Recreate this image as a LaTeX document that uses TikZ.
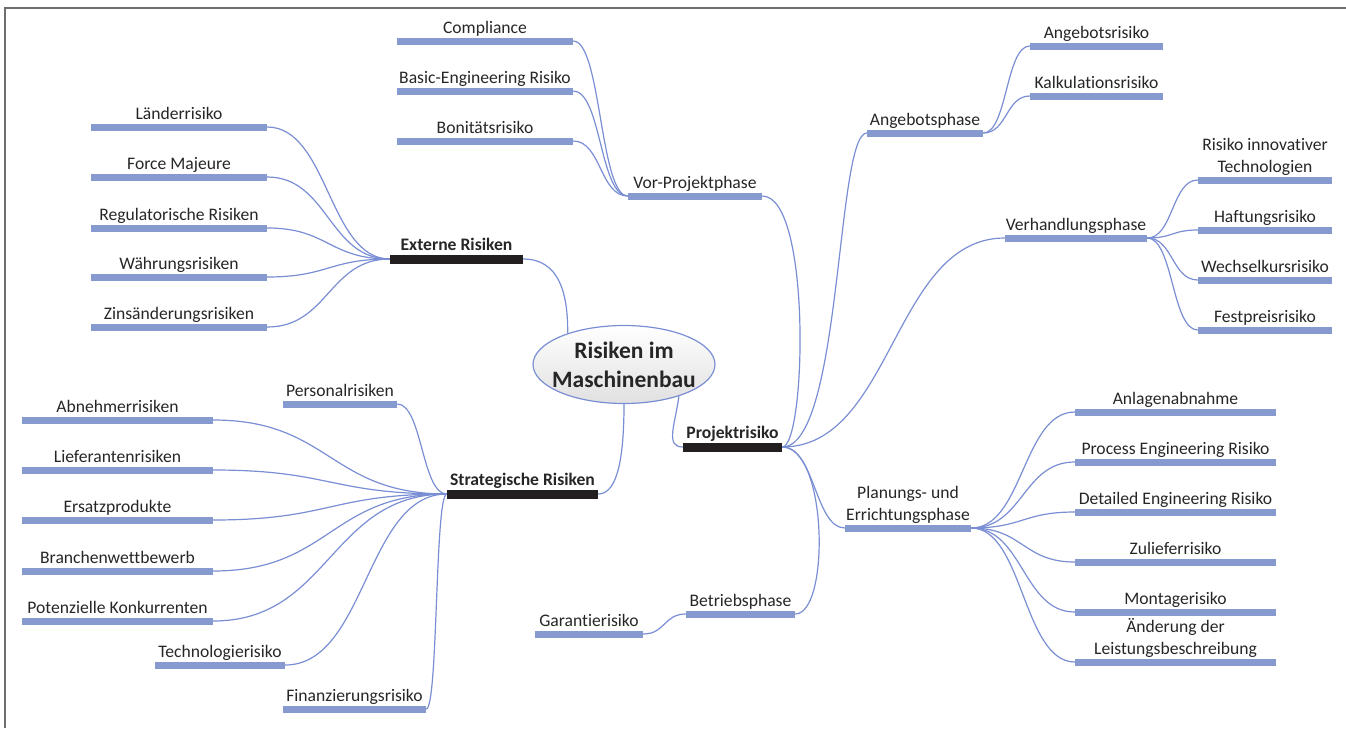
\documentclass[tikz,border=0pt]{standalone}
\usepackage{fontspec}
\setmainfont{Carlito}[Ligatures=NoCommon]
\usetikzlibrary{shapes.geometric}
\definecolor{barblue}{RGB}{134,154,208}
\definecolor{lineblue}{RGB}{122,142,212}
\definecolor{barblack}{RGB}{35,31,32}
\definecolor{txt}{RGB}{38,38,38}
\definecolor{framegray}{RGB}{110,110,110}
\tikzset{
  bar/.style={rectangle, fill=barblue, inner sep=0pt, minimum height=7pt},
  hbar/.style={rectangle, fill=barblack, inner sep=0pt, minimum height=9pt},
  lbl/.style={font=\fontsize{17.6}{22}\selectfont, text=txt, inner sep=0pt, text depth=3.2pt, align=center},
  hlbl/.style={font=\bfseries\fontsize{17.6}{22}\selectfont, text=txt, inner sep=0pt, text depth=3.2pt, align=center},
  conn/.style={draw=lineblue, line width=1.2pt},
  rootnode/.style={ellipse, draw=lineblue, line width=1.2pt, top color=white, bottom color=black!12,
    minimum width=182pt, minimum height=78pt, inner xsep=-14pt, inner ysep=-4pt, align=center, text=txt,
    font=\bfseries\fontsize{23.5}{29}\selectfont}
}
\begin{document}
\begin{tikzpicture}[x=1pt,y=-1pt]
\useasboundingbox (0,0) rectangle (1346,728);
\draw[framegray, line width=2pt] (5,728) -- (5,8) -- (1346,8);

% central
\node[rootnode] (root) at (624,364.5) {Risiken im\\Maschinenbau};

% Projektrisiko branch
\node[hbar, minimum width=99pt, label={[hlbl]above:Projektrisiko}] (proj) at (732.5,447) {};
\node[bar, minimum width=134pt, label={[lbl]above:Vor-Projektphase}] (vor) at (695,196) {};
\node[bar, minimum width=176pt, label={[lbl]above:Compliance}] (compl) at (485,41) {};
\node[bar, minimum width=176pt, label={[lbl]above:{Basic-Engineering Risiko}}] (basic) at (485,91) {};
\node[bar, minimum width=176pt, label={[lbl]above:Bonitätsrisiko}] (bonit) at (485,141) {};

\node[bar, minimum width=116pt, label={[lbl]above:Angebotsphase}] (ang) at (925,133) {};
\node[bar, minimum width=133pt, label={[lbl]above:Angebotsrisiko}] (angr) at (1096.5,46) {};
\node[bar, minimum width=133pt, label={[lbl]above:Kalkulationsrisiko}] (kalk) at (1096.5,96) {};

\node[bar, minimum width=142pt, label={[lbl]above:Verhandlungsphase}] (verh) at (1076,238) {};
\node[bar, minimum width=134pt, label={[lbl]above:{Risiko innovativer\\Technologien}}] (rinn) at (1265,180) {};
\node[bar, minimum width=134pt, label={[lbl]above:Haftungsrisiko}] (haft) at (1265,230) {};
\node[bar, minimum width=134pt, label={[lbl]above:Wechselkursrisiko}] (wech) at (1265,280) {};
\node[bar, minimum width=134pt, label={[lbl]above:Festpreisrisiko}] (fest) at (1265,330) {};

\node[bar, minimum width=126pt, label={[lbl]above:{Planungs- und\\Errichtungsphase}}] (plan) at (908,528) {};
\node[bar, minimum width=201pt, label={[lbl]above:Anlagenabnahme}] (anl) at (1175.5,412) {};
\node[bar, minimum width=201pt, label={[lbl]above:{Process Engineering Risiko}}] (proc) at (1175.5,462) {};
\node[bar, minimum width=201pt, label={[lbl]above:{Detailed Engineering Risiko}}] (det) at (1175.5,512) {};
\node[bar, minimum width=201pt, label={[lbl]above:Zulieferrisiko}] (zul) at (1175.5,562) {};
\node[bar, minimum width=201pt, label={[lbl]above:Montagerisiko}] (mont) at (1175.5,612) {};
\node[bar, minimum width=201pt, label={[lbl]above:{Änderung der\\Leistungsbeschreibung}}] (aend) at (1175.5,662) {};

\node[bar, minimum width=109pt, label={[lbl]above:Betriebsphase}] (betr) at (740.5,614) {};
\node[bar, minimum width=108pt, label={[lbl]above:Garantierisiko}] (gar) at (589,634) {};

% Externe Risiken
\node[hbar, minimum width=133pt, label={[hlbl]above:{Externe Risiken}}] (ext) at (456.5,259) {};
\node[bar, minimum width=176pt, label={[lbl]above:Länderrisiko}] (laend) at (179,127) {};
\node[bar, minimum width=176pt, label={[lbl]above:{Force Majeure}}] (force) at (179,177) {};
\node[bar, minimum width=176pt, label={[lbl]above:{Regulatorische Risiken}}] (reg) at (179,228) {};
\node[bar, minimum width=176pt, label={[lbl]above:Währungsrisiken}] (waehr) at (179,277) {};
\node[bar, minimum width=176pt, label={[lbl]above:Zinsänderungsrisiken}] (zins) at (179,327) {};

% Strategische Risiken
\node[hbar, minimum width=151pt, label={[hlbl]above:{Strategische Risiken}}] (strat) at (522.5,494) {};
\node[bar, minimum width=114pt, label={[lbl]above:Personalrisiken}] (pers) at (340,404) {};
\node[bar, minimum width=191pt, label={[lbl]above:Abnehmerrisiken}] (abn) at (117.5,420) {};
\node[bar, minimum width=191pt, label={[lbl]above:Lieferantenrisiken}] (lief) at (117.5,470) {};
\node[bar, minimum width=191pt, label={[lbl]above:Ersatzprodukte}] (ersatz) at (117.5,520) {};
\node[bar, minimum width=191pt, label={[lbl]above:Branchenwettbewerb}] (branch) at (117.5,571) {};
\node[bar, minimum width=191pt, label={[lbl]above:{Potenzielle Konkurrenten}}] (pot) at (117.5,621) {};
\node[bar, minimum width=130pt, label={[lbl]above:Technologierisiko}] (tech) at (220,665) {};
\node[bar, minimum width=143pt, label={[lbl]above:Finanzierungsrisiko}] (fin) at (354.5,709) {};

% connectors: root
\draw[conn] (ext.east) .. controls (560,259) and (568,295) .. (root.151);
\draw[conn] (root.-30) .. controls (675,425) and (665,447) .. (proj.west);
\draw[conn] (root.south) .. controls (624,470) and (614,494) .. (strat.east);

% Projektrisiko children
\draw[conn] (proj.east) .. controls (806,447) and (812,196) .. (vor.east);
\draw[conn] (proj.east) .. controls (842,447) and (836,133) .. (ang.west);
\draw[conn] (proj.east) .. controls (893,447) and (893,238) .. (verh.west);
\draw[conn] (proj.east) .. controls (815,447) and (815,528) .. (plan.west);
\draw[conn] (proj.east) .. controls (828,447) and (830,614) .. (betr.east);

\foreach \c in {compl,basic,bonit}
  \draw[conn] (\c.east) .. controls +(28,0) and +(-28,0) .. (vor.west);
\foreach \c in {angr,kalk}
  \draw[conn] (ang.east) .. controls +(24,0) and +(-24,0) .. (\c.west);
\foreach \c in {rinn,haft,wech,fest}
  \draw[conn] (verh.east) .. controls +(26,0) and +(-26,0) .. (\c.west);
\foreach \c in {anl,proc,det,zul,mont,aend}
  \draw[conn] (plan.east) .. controls +(52,0) and +(-52,0) .. (\c.west);
\draw[conn] (gar.east) .. controls +(22,0) and +(-22,0) .. (betr.west);

% Externe children
\foreach \c in {laend,force,reg,waehr,zins}
  \draw[conn] (\c.east) .. controls +(61,0) and +(-61,0) .. (ext.west);

% Strategische children
\draw[conn] (pers.east) .. controls +(25,0) and +(-25,0) .. (strat.west);
\foreach \c in {abn,lief,ersatz,branch,pot}
  \draw[conn] (\c.east) .. controls +(117,0) and +(-117,0) .. (strat.west);
\draw[conn] (tech.east) .. controls +(81,0) and +(-81,0) .. (strat.west);
\draw[conn] (fin.east) .. controls +(12,0) and +(-12,0) .. (strat.west);
\end{tikzpicture}
\end{document}
